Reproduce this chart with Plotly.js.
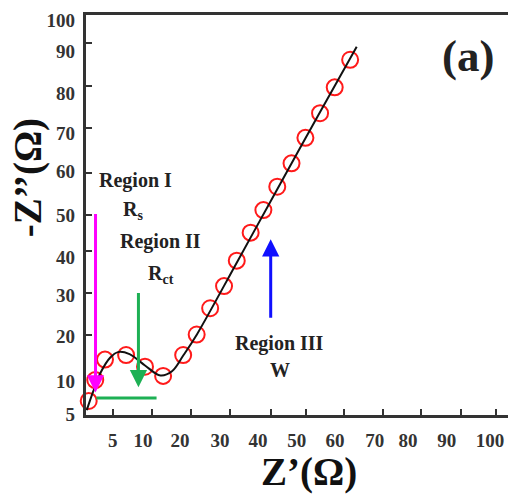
<!DOCTYPE html>
<html>
<head>
<meta charset="utf-8">
<script src="https://cdn.plot.ly/plotly-3.0.1.min.js"></script>
<style>html,body{margin:0;padding:0;background:#fff;}#chart{width:508px;height:497px;}</style>
</head>
<body>
<div id="chart"></div>
<script>
// Measured impedance points (Z', -Z'')
const zRe = [-4.1, -2.4, 0.13, 5.6, 10.5, 15.2, 20.4, 23.9, 27.4, 31.0, 34.3, 37.9, 41.2, 44.8, 48.5, 52.1, 55.9, 59.7, 63.7];
const zIm = [4.2, 9.2, 14.1, 15.2, 12.4, 10.2, 15.2, 20.1, 26.4, 31.7, 37.8, 44.5, 49.9, 55.5, 61.1, 67.2, 73.1, 79.3, 85.9];

// Fitted curve
const fitRe = [-4.6, -3.0, -1.0, 1.5, 3.5, 6.5, 10.5, 14.5, 17.5, 20.5, 24.0, 34.4, 44.8, 55.0, 65.4];
const fitIm = [2.0, 6.3, 11.0, 14.6, 15.9, 15.4, 12.7, 10.3, 11.3, 15.2, 20.2, 37.5, 54.9, 71.9, 89.0];

// Tick marks and tick labels (as printed in the figure)
const xTickMarks = [2.13, 12.34, 22.38, 32.57, 43.1, 52.25, 62.1, 72.1, 82.1, 92.4, 101.5];
const xLabelPos = [2.13, 9.98, 19.6, 29.95, 39.8, 49.83, 59.77, 70.1, 78.7, 88.75, 100.0];
const xLabels = ['5', '10', '20', '30', '40', '50', '60', '70', '80', '90', '100'];
const yTickMarks = [20.0, 30.0, 40.0, 48.7, 58.9, 69.6, 79.6, 90.0];
const yLabelPos = [0.95, 8.8, 19.6, 29.6, 38.7, 48.7, 59.1, 68.4, 77.9, 87.8, 95.3];
const yLabels = ['5', '10', '20', '30', '40', '50', '60', '70', '80', '90', '100'];

const xTitle = 'Z’(Ω)';
const yTitle = '-Z’’(Ω)';

const xRange = [-4.80, 104.64];
const yRange = [0.84, 96.62];
const serif = 'Liberation Serif, Times New Roman, serif';

const traces = [
  {
    x: zRe, y: zIm, type: 'scatter', mode: 'markers', cliponaxis: false,
    marker: {symbol: 'circle-open', size: 16, color: '#ff1a1a', line: {width: 2, color: '#ff1a1a'}},
    showlegend: false, hoverinfo: 'skip'
  },
  {
    x: fitRe, y: fitIm, type: 'scatter', mode: 'lines',
    line: {shape: 'spline', smoothing: 1, color: '#111', width: 2},
    showlegend: false, hoverinfo: 'skip'
  },
  {x: [], y: [], xaxis: 'x2', yaxis: 'y2', type: 'scatter', mode: 'markers', showlegend: false}
];

const tickFont = {family: serif, size: 19, weight: 700, color: '#333'};
const textFont = {family: serif, size: 20, weight: 700, color: '#222'};
const titleFont = {family: serif, size: 39, weight: 700, color: '#111'};

function arrow(x, y, ax, ay, color) {
  return {x: x, y: y, ax: ax, ay: ay, xref: 'x', yref: 'y', axref: 'x', ayref: 'y',
    text: '', showarrow: true, arrowhead: 2, arrowsize: 1.15, arrowwidth: 3,
    arrowcolor: color, standoff: 0, startstandoff: 0};
}
function label(x, y, text, size) {
  const f = Object.assign({}, textFont);
  if (size) f.size = size;
  return {x: x, y: y, xref: 'x', yref: 'y', text: text, showarrow: false, font: f,
    xanchor: 'center', yanchor: 'middle'};
}

const layout = {
  width: 508, height: 497,
  margin: {l: 86, r: 0, t: 15, b: 82},
  paper_bgcolor: '#fff', plot_bgcolor: '#fff',
  showlegend: false,
  font: {family: serif, color: '#222'},
  xaxis: {
    range: xRange, tickmode: 'array', tickvals: xTickMarks, showticklabels: false,
    ticks: 'inside', ticklen: 6, tickwidth: 2, tickcolor: '#333',
    showline: true, linewidth: 3, linecolor: '#333', mirror: true,
    showgrid: false, zeroline: false
  },
  xaxis2: {
    overlaying: 'x', anchor: 'y', side: 'bottom', range: xRange,
    tickmode: 'array', tickvals: xLabelPos, ticktext: xLabels, ticks: '',
    showline: false, showgrid: false, zeroline: false,
    tickfont: tickFont, ticklabelstandoff: 12
  },
  yaxis: {
    range: yRange, tickmode: 'array', tickvals: yTickMarks, showticklabels: false,
    ticks: 'inside', ticklen: 6, tickwidth: 2, tickcolor: '#333',
    showline: true, linewidth: 3, linecolor: '#333', mirror: false,
    showgrid: false, zeroline: false
  },
  yaxis2: {
    overlaying: 'y', anchor: 'x', side: 'left', range: yRange,
    tickmode: 'array', tickvals: yLabelPos, ticktext: yLabels, ticks: '',
    showline: false, showgrid: false, zeroline: false,
    tickfont: tickFont, ticklabelstandoff: 10
  },
  shapes: [
    {type: 'line', xref: 'x', yref: 'y', x0: -2.1, x1: 13.5, y0: 4.9, y1: 4.9,
     line: {color: '#1db054', width: 3}}
  ],
  annotations: [
    arrow(-2.33, 6.2, -2.33, 49.3, '#ff00ff'),
    arrow(8.8, 7.5, 8.8, 30.4, '#1db054'),
    arrow(43.1, 42.9, 43.1, 23.75, '#1010ff'),
    label(8.1, 57.1, 'Region I'),
    label(7.3, 49.9, 'R<sub>s</sub>'),
    label(14.4, 42.3, 'Region II'),
    label(14.6, 34.4, 'R<sub>ct</sub>'),
    label(45.5, 18.0, 'Region III'),
    label(45.5, 11.6, 'W'),
    label(94.3, 86.8, '(a)', 45),
    {xref: 'paper', yref: 'paper', x: 0.528, y: -0.1425, text: xTitle, showarrow: false,
     font: titleFont, xanchor: 'center', yanchor: 'middle'},
    {xref: 'paper', yref: 'paper', x: -0.137, y: 0.5925, text: yTitle, showarrow: false,
     font: titleFont, textangle: -90, xanchor: 'center', yanchor: 'middle'}
  ]
};

Plotly.newPlot('chart', traces, layout, {displayModeBar: false, staticPlot: true});
</script>
</body>
</html>
